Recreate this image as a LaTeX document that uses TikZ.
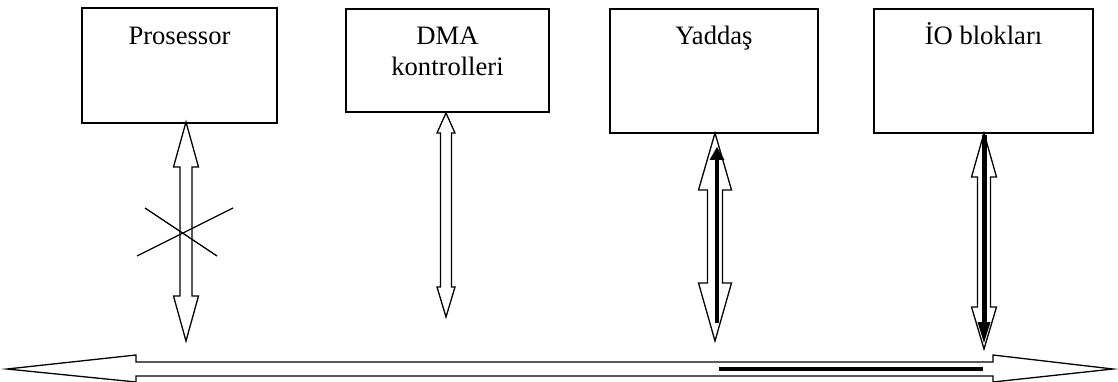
\documentclass[tikz,border=0pt]{standalone}
\usepackage{fontspec}
\setmainfont{Liberation Serif}
\usetikzlibrary{calc}
\tikzset{
  unitbox/.style={draw, line width=1.8pt, inner sep=0pt, fill=white},
  lbl/.style={anchor=base, inner sep=0pt, font=\fontsize{26.6}{31}\selectfont},
  hollow/.style={draw, line width=1.3pt, fill=white, line join=miter},
  solidline/.style={line width=#1, draw=black},
}
% vertical double arrow: x, top tip y, bottom tip y, shaft half width, head half width, top head length, bottom head length
\newcommand{\vdarrow}[7]{%
  \draw[hollow] (#1,#2) -- (#1+#5,#2+#6) -- (#1+#4,#2+#6) -- (#1+#4,#3-#7) -- (#1+#5,#3-#7) -- (#1,#3)
    -- (#1-#5,#3-#7) -- (#1-#4,#3-#7) -- (#1-#4,#2+#6) -- (#1-#5,#2+#6) -- cycle;}
\begin{document}
\begin{tikzpicture}[x=1pt,y=-1pt]
\useasboundingbox (0,0) rectangle (1118,382);
% boxes
\node[unitbox, minimum width=195pt, minimum height=115pt] (proc) at (179.5,65.5) {};
\node[unitbox, minimum width=203pt, minimum height=103pt] (dma) at (447.5,60.5) {};
\node[unitbox, minimum width=208pt, minimum height=124pt] (mem) at (714,71) {};
\node[unitbox, minimum width=219pt, minimum height=124pt] (io) at (983.5,71) {};
% labels
\node[lbl] (tproc) at (179.5,45) {Prosessor};
\node[lbl] (tdma1) at (447.5,45) {DMA};
\node[lbl] (tdma2) at (447.5,76) {kontrolleri};
\node[lbl] (tmem) at (714,45) {Yaddaş};
\node[lbl] (tio) at (983.5,45) {İO blokları};
% bus (horizontal double arrow)
\draw[hollow] (7,369) -- (136,355) -- (136,362) -- (993,362) -- (993,355) -- (1113,369)
  -- (993,382) -- (993,376) -- (136,376) -- (136,382) -- cycle;
\coordinate (bl) at (719,369);
\coordinate (br) at (983,369);
\draw[solidline=3.5pt] (bl) -- (br);
% vertical double arrows
\vdarrow{186}{122}{341}{6}{12.5}{45}{45}
\vdarrow{446}{113}{317}{5.5}{9}{20}{30}
\vdarrow{715}{133}{341}{7.5}{16.5}{57}{58}
\vdarrow{984}{133}{349}{6.5}{12.5}{44}{42}
% cross on processor arrow
\coordinate (c1) at (145,208);
\coordinate (c2) at (217,256);
\coordinate (c3) at (137,256);
\coordinate (c4) at (233,208);
\draw[line width=1.3pt] (c1) -- (c2);
\draw[line width=1.3pt] (c3) -- (c4);
% filled inner arrows
\coordinate (m1) at (717,323);
\coordinate (m2) at (717,158);
\draw[solidline=4pt] (m1) -- (m2);
\fill (717,147) -- (724.5,160) -- (709.5,160) -- cycle;
\coordinate (i1) at (984,135);
\coordinate (i2) at (984,324);
\draw[solidline=5pt] (i1) -- (i2);
\fill (984,343) -- (990.5,322) -- (977.5,322) -- cycle;
\end{tikzpicture}
\end{document}
